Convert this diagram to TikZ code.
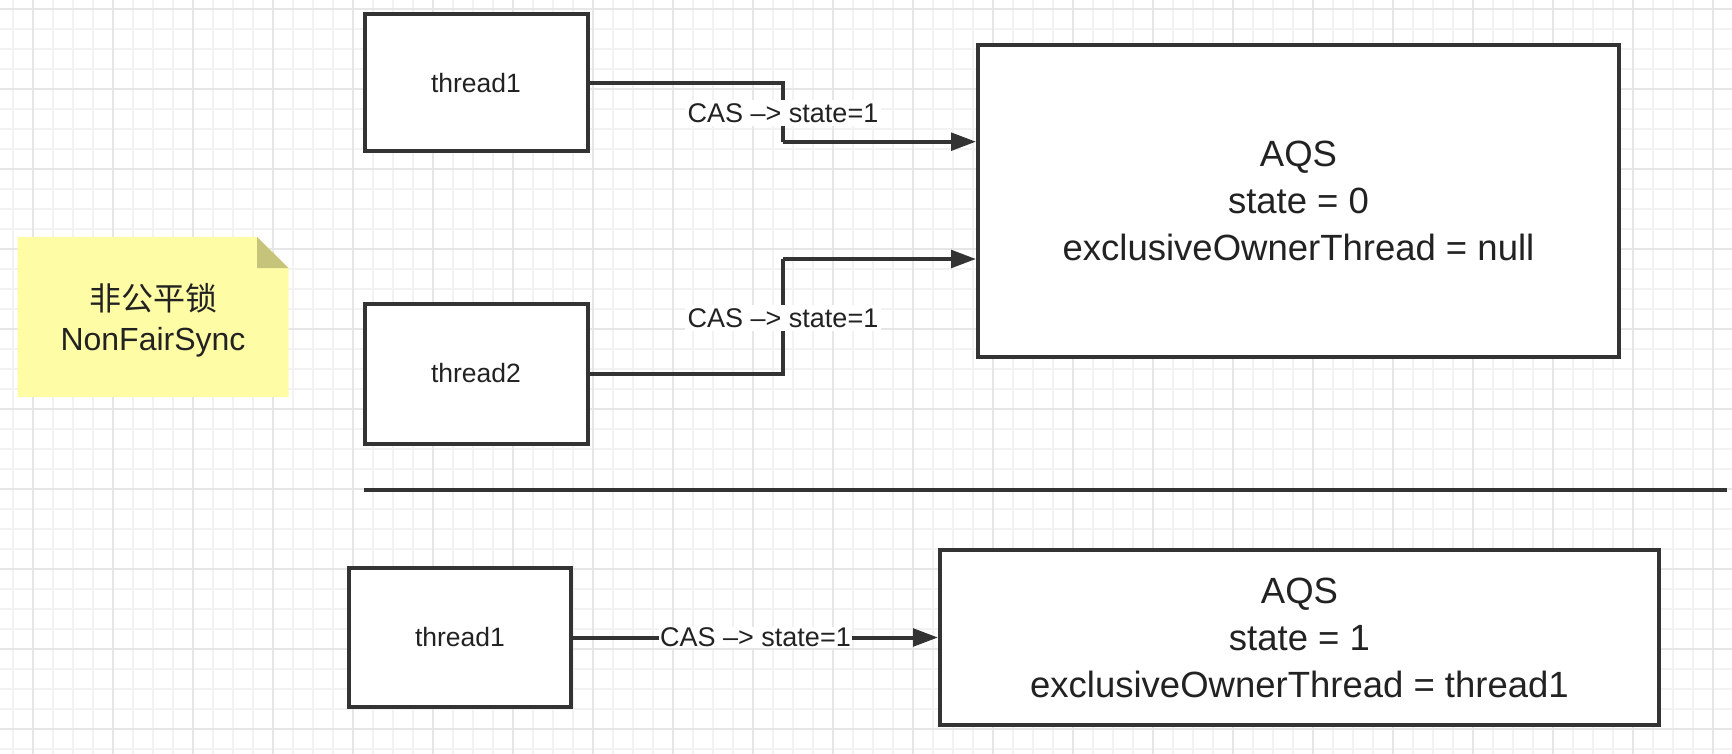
\documentclass[tikz,border=0pt]{standalone}
\usepackage{fontspec}
\setmainfont{Liberation Sans}
\newfontfamily\cjk{Noto Sans CJK SC}
\usetikzlibrary{arrows.meta}
\definecolor{ink}{HTML}{333333}
\definecolor{txt}{HTML}{222222}
\definecolor{gridminor}{HTML}{F2F2F2}
\definecolor{gridmajor}{HTML}{E6E6E6}
\definecolor{notefill}{HTML}{FFFCA6}
\definecolor{notefold}{HTML}{C6C47B}
\tikzset{
  box/.style={draw=ink, line width=4pt, fill=white, text=txt, align=center, inner sep=0pt},
  small/.style={font=\fontsize{26.5}{32}\selectfont},
  big/.style={font=\fontsize{36.5}{47}\selectfont},
  conn/.style={draw=ink, line width=4pt, -{Triangle[length=25pt,width=17.5pt]}},
  plain/.style={draw=ink, line width=4pt},
  lbl/.style={fill=white, text=txt, inner sep=3pt, font=\fontsize{27}{32}\selectfont},
}
\begin{document}
\begin{tikzpicture}[x=1pt,y=-1pt]
\useasboundingbox (0,0) rectangle (1732,754);
\fill[white] (0,0) rectangle (1732,754);
% grid
\foreach \i in {0,...,86} {\draw[gridminor, line width=2pt] (13.3+20*\i,0) -- (13.3+20*\i,754);}
\foreach \i in {0,...,37} {\draw[gridminor, line width=2pt] (0,9.3+20*\i) -- (1732,9.3+20*\i);}
\foreach \i in {0,...,21} {\draw[gridmajor, line width=2pt] (33.3+80*\i,0) -- (33.3+80*\i,754);}
\foreach \i in {0,...,9} {\draw[gridmajor, line width=2pt] (0,9.3+80*\i) -- (1732,9.3+80*\i);}

% note
\fill[notefill] (17.7,237) -- (257,237) -- (288.5,268) -- (288.5,397) -- (17.7,397) -- cycle;
\fill[notefold] (257,237) -- (257,268) -- (288.5,268) -- cycle;
\node[text=txt, align=center, font=\fontsize{32}{40}\selectfont] (note) at (153,320) {{\cjk 非公平锁}\\NonFairSync};

% top part
\node[box, small, minimum width=223pt, minimum height=137pt] (t1) at (476,83) {thread1};
\node[box, small, minimum width=223pt, minimum height=140pt] (t2) at (476,373.5) {thread2};
\node[box, big, minimum width=641pt, minimum height=312pt] (aqs1) at (1298.5,201) {AQS\\state = 0\\exclusiveOwnerThread = null};

\coordinate (k1) at (783,141.7);
\coordinate (k2) at (783,259);
\draw[plain] (t1.east) -| (k1);
\draw[conn] (k1) -- (aqs1.west |- k1);
\draw[plain] (t2.east) -| (k2);
\draw[conn] (k2) -- (aqs1.west |- k2);
\node[lbl] (l1) at (783,113) {CAS –> state=1};
\node[lbl] (l2) at (783,318) {CAS –> state=1};

% separator
\coordinate (s1) at (364,489.5);
\coordinate (s2) at (1727,489.5);
\draw[draw=ink, line width=4pt] (s1) -- (s2);

% bottom part
\node[box, small, minimum width=222pt, minimum height=139pt] (bt1) at (460,637.5) {thread1};
\node[box, big, minimum width=719pt, minimum height=175pt] (baqs) at (1299.5,637.5) {AQS\\state = 1\\exclusiveOwnerThread = thread1};
\draw[conn] (bt1.east) -- node[lbl, inner sep=1pt] (l3) {CAS –> state=1} (baqs.west);
\end{tikzpicture}
\end{document}
